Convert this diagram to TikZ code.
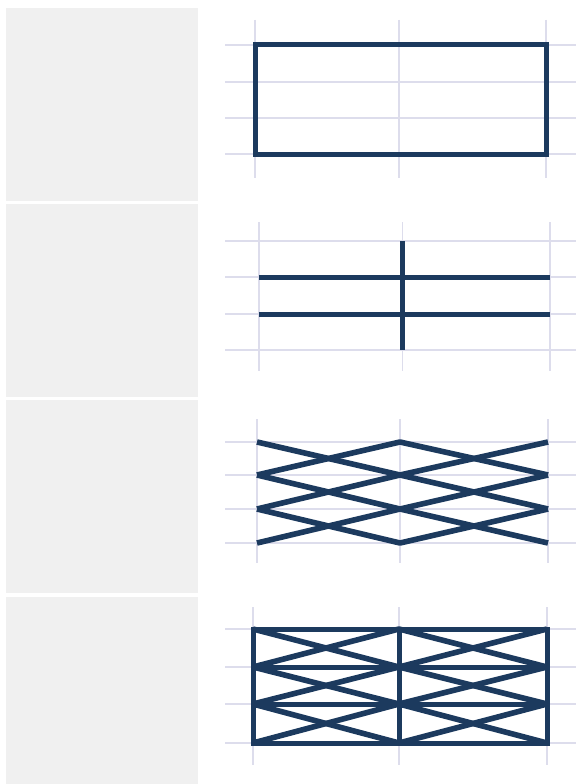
\documentclass[tikz,border=0pt]{standalone}
\definecolor{navy}{HTML}{1C3A5E}
\definecolor{gridc}{HTML}{DDDDEC}
\definecolor{panelc}{HTML}{F0F0F0}
\newcommand\mygrid[9]{% L M R y0 y1 y2 y3 top bottom
  \draw[gridline] (#1,#8) -- (#1,#9);
  \draw[gridline] (#2,#8) -- (#2,#9);
  \draw[gridline] (#3,#8) -- (#3,#9);
  \foreach \yy in {#4,#5,#6,#7} \draw[gridline] (225,\yy) -- (576,\yy);
}
\newcommand\mylattice[7]{% L M R y0 y1 y2 y3
  \draw[latticeline] (#1,#4) -- (#2,#5) -- (#3,#6);
  \draw[latticeline] (#1,#6) -- (#2,#5) -- (#3,#4);
  \draw[latticeline] (#1,#5) -- (#2,#6) -- (#3,#7);
  \draw[latticeline] (#1,#7) -- (#2,#6) -- (#3,#5);
  \draw[latticeline] (#1,#5) -- (#2,#4) -- (#3,#5);
  \draw[latticeline] (#1,#6) -- (#2,#7) -- (#3,#6);
}
\begin{document}
\begin{tikzpicture}[x=1pt,y=-1pt,
  panelbox/.style={fill=panelc,draw=none},
  gridline/.style={draw=gridc,line width=1.6pt},
  strokeline/.style={draw=navy,line width=5pt,line join=round},
  latticeline/.style={draw=navy,line width=5.6pt,line join=round}]
\useasboundingbox (0,0) rectangle (576,784);
\fill[white] (0,0) rectangle (576,784);
% panels
\fill[panelbox] (6,8) rectangle (198,201);
\fill[panelbox] (6,204) rectangle (198,397);
\fill[panelbox] (6,400) rectangle (198,593);
\fill[panelbox] (6,597) rectangle (198,784);
% row 1
\mygrid{255}{399}{546}{45}{82}{118}{154}{20}{178}
\draw[strokeline,line join=miter] (255,45) rectangle (546,154);
% row 2
\mygrid{259}{402.5}{550}{241}{277}{314}{350}{222}{371}
\draw[strokeline] (259,277) -- (550,277);
\draw[strokeline] (259,314) -- (550,314);
\draw[strokeline] (402.5,241) -- (402.5,350);
% row 3
\mygrid{257}{400}{548}{442}{475}{509}{543}{419}{563}
\mylattice{257}{400}{548}{442}{475}{509}{543}
% row 4
\mygrid{253}{399}{547}{629}{667}{704}{743}{607}{765}
\mylattice{253}{399}{547}{629}{667}{704}{743}
\draw[strokeline] (253,667) -- (547,667);
\draw[strokeline] (253,704) -- (547,704);
\draw[strokeline] (399,629) -- (399,743);
\draw[strokeline,line join=miter] (253,629) rectangle (547,743);
\end{tikzpicture}
\end{document}
